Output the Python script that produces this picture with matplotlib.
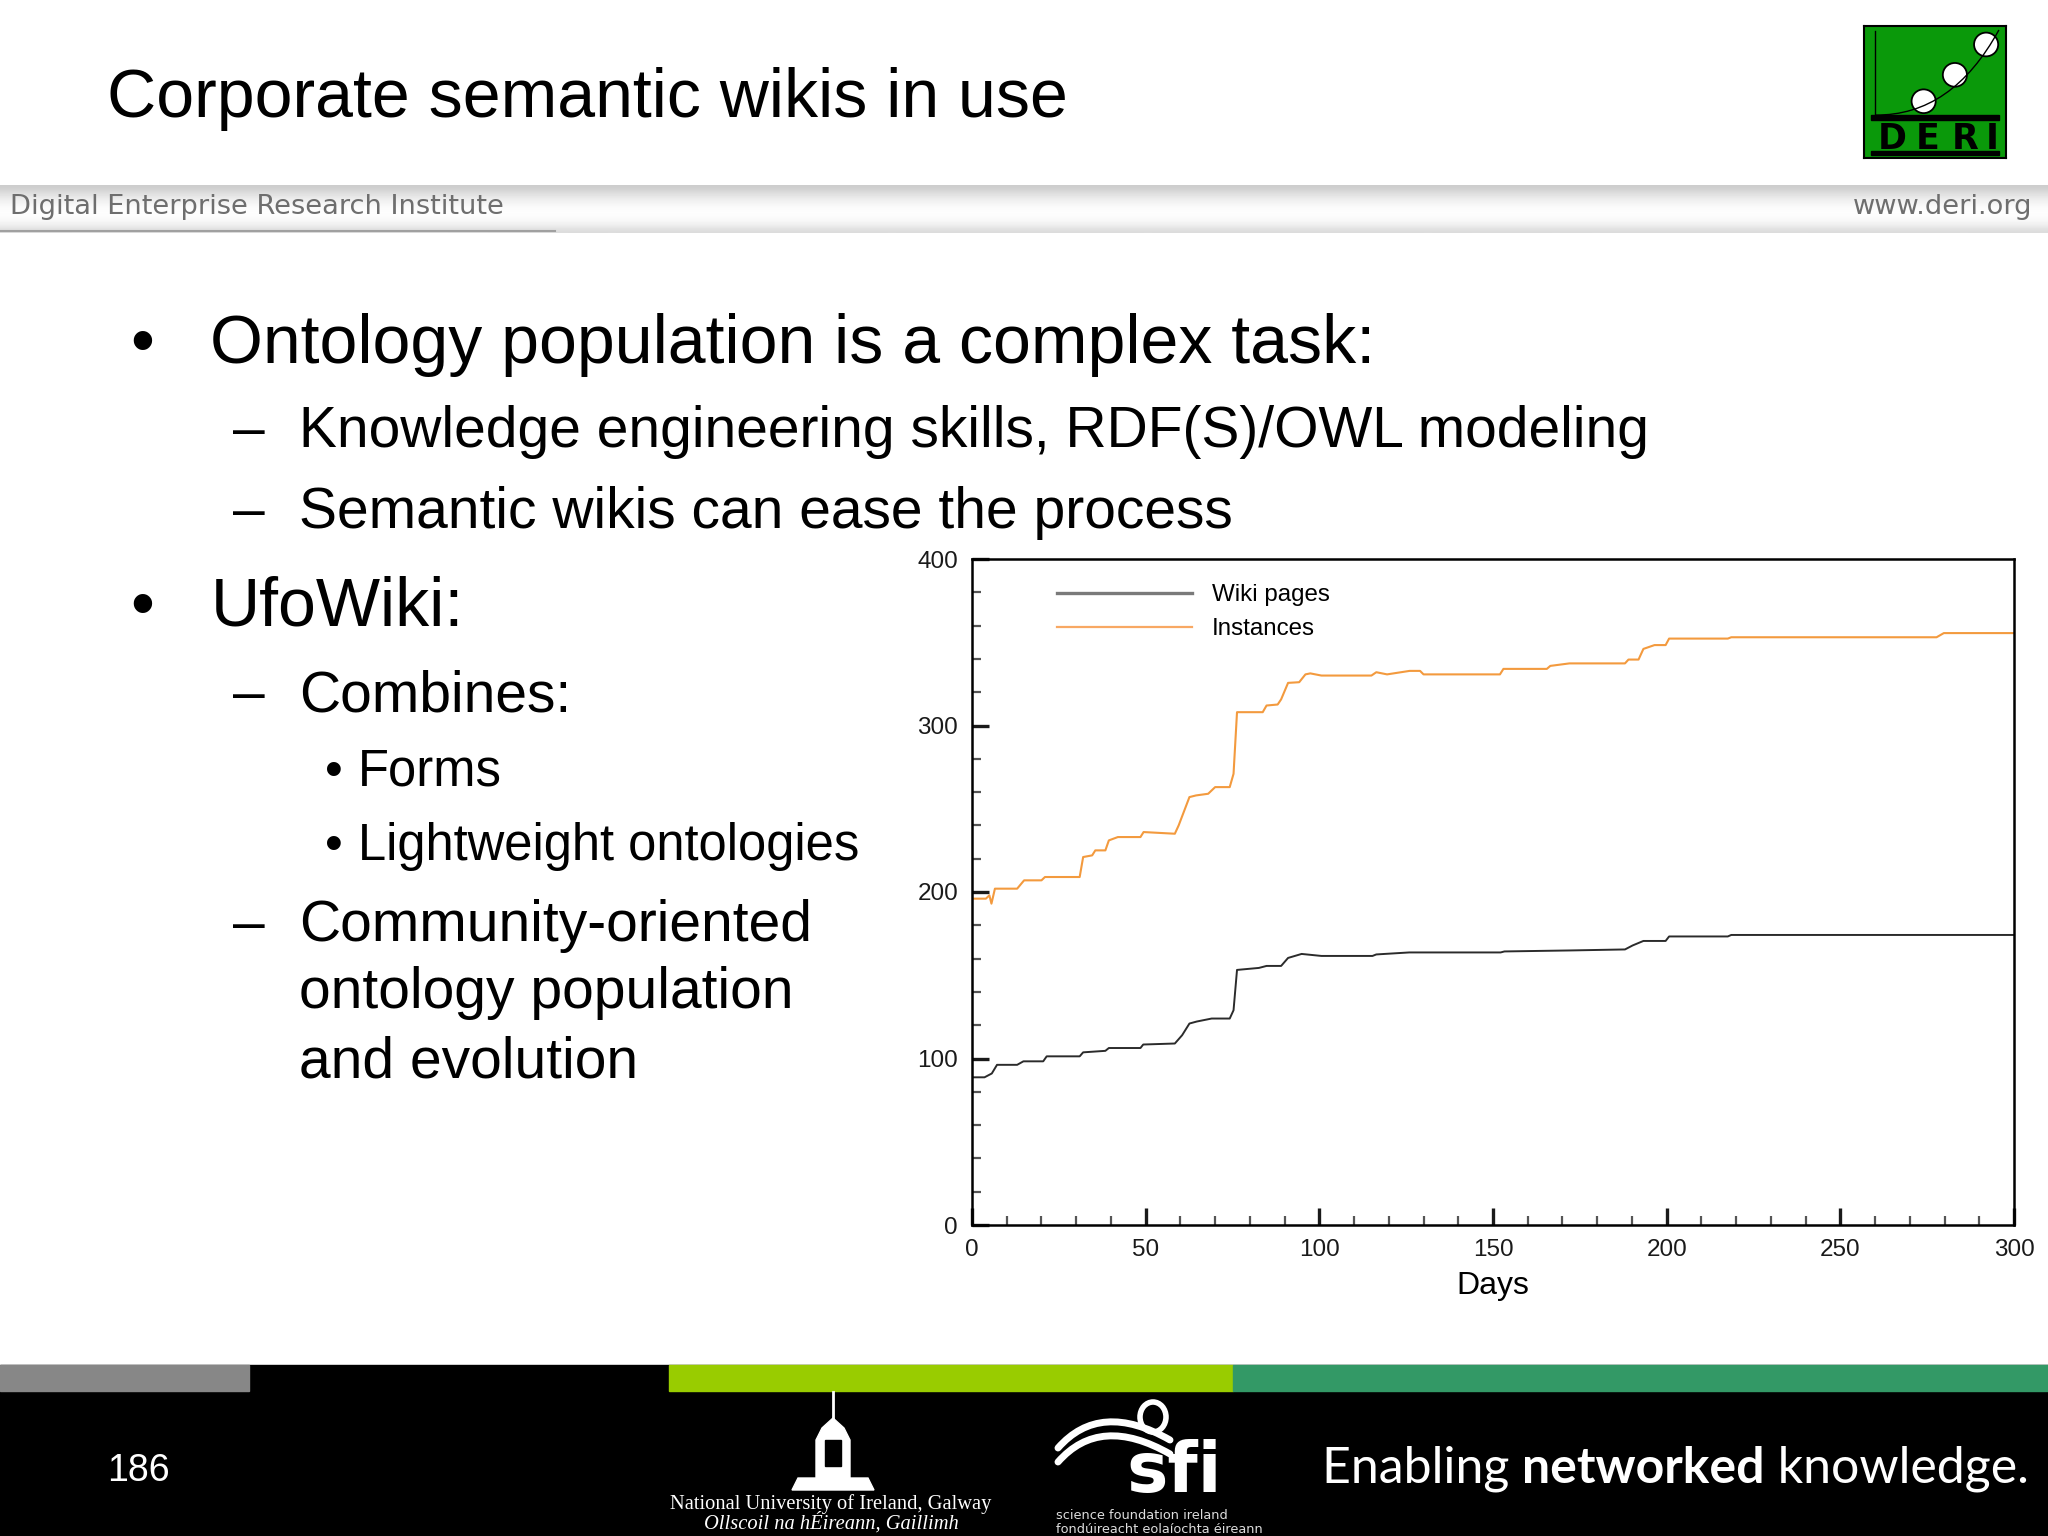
import numpy as np
import matplotlib
matplotlib.use("Agg")
import matplotlib.pyplot as plt
from matplotlib.patches import Rectangle, Ellipse, Polygon, PathPatch
from matplotlib.path import Path
from matplotlib.lines import Line2D
from matplotlib.ticker import MultipleLocator

W, H = 2048, 1536

# data (day, count)
days_inst = [0, 4, 5, 5.6, 6.6, 13, 15, 20, 21, 31, 32, 34.6, 35.5, 38.4, 39.4, 42, 48.5, 49.4,
             58.4, 59.5, 62.6, 64.5, 68, 70, 74.2, 75.3, 76.3, 83.7, 84.8, 88, 89, 91, 94.2,
             96, 97.4, 100.6, 115, 116.4, 119.5, 126, 129, 130, 152, 153, 165.5, 166.5, 172,
             188, 189, 191.9, 193.3, 196.5, 199.7, 200.7, 217.6, 218.6, 277.7, 279.8, 300]
inst = [196, 196, 198, 193, 202, 202, 207, 207, 209, 209, 221, 222, 225, 225, 231, 233, 233, 236,
        235, 240, 257, 258, 259, 263, 263, 271, 308, 308, 312, 312.6, 315.7, 325.6, 326,
        330.7, 331.3, 330, 330, 332, 330.7, 332.8, 332.8, 330.7, 330.7, 334, 334, 335.8, 337.3,
        337.3, 339.6, 339.6, 346, 348.3, 348.3, 352.2, 352.2, 353, 353, 355.5, 355.5]

days_wiki = [0, 3.6, 5.7, 7.2, 13, 14.8, 20.5, 21.5, 31, 32, 38.4, 39.4, 48.5, 49.3, 58.4, 60.5,
             62.6, 64.7, 69, 74.2, 75.3, 76.3, 82.6, 84.8, 89, 91, 94.9, 100.6, 115.3, 116.4,
             125.9, 152.2, 153.3, 172.3, 188, 190.2, 193.3, 199.7, 200.7, 217.6, 218.6, 300]
wiki = [88.7, 88.7, 91, 96.2, 96.2, 98.3, 98.3, 101.3, 101.3, 103.7, 104.6, 106.3, 106.3, 108.4,
        109, 114, 121, 122.2, 124, 124, 129, 153.2, 154.4, 155.6, 155.6, 160.4, 162.8, 161.6,
        161.6, 162.5, 163.7, 163.7, 164.3, 164.9, 165.5, 167.9, 170.6, 170.6, 173.3, 173.3,
        174.2, 174.2]

x_ticks = [0, 50, 100, 150, 200, 250, 300]
y_ticks = [0, 100, 200, 300, 400]
series_names = ["Wiki pages", "Instances"]

title = "Corporate semantic wikis in use"
# (marker, marker x, text x, baseline y, size, text)
lines = [
    ("\u2022", 130, 210, 363, 49, "Ontology population is a complex task:"),
    ("\u2013", 233, 299, 447, 41, "Knowledge engineering skills, RDF(S)/OWL modeling"),
    ("\u2013", 233, 299, 528, 41, "Semantic wikis can ease the process"),
    ("\u2022", 130, 211, 626, 49, "UfoWiki:"),
    ("\u2013", 233, 299, 711, 41, "Combines:"),
    ("\u2022", 325, 358, 786, 36.5, "Forms"),
    ("\u2022", 325, 358, 860, 36.5, "Lightweight ontologies"),
    ("\u2013", 233, 299, 941, 41, "Community-oriented"),
    ("", 0, 299, 1008, 41, "ontology population"),
    ("", 0, 299, 1077, 41, "and evolution"),
]

plt.rcParams['font.family'] = ['Liberation Sans', 'DejaVu Sans']

fig = plt.figure(figsize=(20.48, 15.36), dpi=100)
fig.patch.set_facecolor('white')

# decoration layer in pixel coordinates
deco = fig.add_axes([0, 0, 1, 1], zorder=0)
deco.set_xlim(0, W)
deco.set_ylim(H, 0)
deco.axis('off')

# header band
grad = np.array([0.80, 0.86, 0.91, 0.95, 0.98, 0.995, 0.99, 0.97, 0.93, 0.86]).reshape(-1, 1)
deco.imshow(grad, cmap='gray', vmin=0, vmax=1, aspect='auto', interpolation='bicubic',
            extent=[0, W, 233, 185], zorder=1)
deco.plot([0, 555], [231, 231], color='#a0a0a0', lw=1.5, zorder=2)
deco.text(10, 207, "Digital Enterprise Research Institute", fontsize=19.6, color='#6e6e6e',
          family='DejaVu Sans', va='center', ha='left', zorder=3)
deco.text(2032, 207, "www.deri.org", fontsize=19.6, color='#6e6e6e',
          family='DejaVu Sans', va='center', ha='right', zorder=3)

deco.text(107, 117, title, fontsize=49, color='black', va='baseline', ha='left')

for mark, mx, tx, base, size, txt in lines:
    if mark:
        deco.text(mx, base, mark, fontsize=size, va='baseline', ha='left')
    deco.text(tx, base, txt, fontsize=size, va='baseline', ha='left')

# footer
deco.add_patch(Rectangle((0, 1365), W, H - 1365, color='black', zorder=1))
for x0, x1, c in [(0, 249, '#878787'), (669, 1233, '#99cc00'), (1233, W, '#339966')]:
    deco.add_patch(Rectangle((x0, 1365), x1 - x0, 26, color=c, zorder=2))
deco.text(107, 1481, "186", fontsize=27, color='white', va='baseline', ha='left', zorder=3)

# tagline with mixed weights
r = fig.canvas.get_renderer()
xpos = 1322
for part, wgt in [("Enabling ", 'normal'), ("networked", 'bold'), (" knowledge.", 'normal')]:
    t = deco.text(xpos, 1483, part, fontsize=36, color='white', family='Lato', weight=wgt,
                  va='baseline', ha='left', zorder=3)
    bb = t.get_window_extent(renderer=r)
    xpos += bb.width * W / fig.bbox.width

# NUI Galway crest (simplified)
deco.plot([833, 833], [1392, 1422], color='white', lw=2, zorder=3)
deco.add_patch(Polygon([(816, 1478), (816, 1440), (822, 1428), (833, 1418), (844, 1428),
                        (850, 1440), (850, 1478)], closed=True, color='white', zorder=3))
deco.add_patch(Rectangle((825, 1440), 16, 26, color='black', zorder=4))
deco.add_patch(Polygon([(798, 1478), (868, 1478), (874, 1490), (792, 1490)], closed=True,
                       color='white', zorder=3))
deco.text(831, 1509, "National University of Ireland, Galway", fontsize=14.8, color='white',
          family='Liberation Serif', va='baseline', ha='center', zorder=3)
deco.text(831, 1529, "Ollscoil na h\u00c9ireann, Gaillimh", fontsize=14.8, color='white',
          family='Liberation Serif', style='italic', va='baseline', ha='center', zorder=3)

# SFI logo (simplified)
deco.add_patch(Ellipse((1153, 1417), 26, 30, facecolor='black', edgecolor='white', lw=4, zorder=3))
for dy in (0, 14):
    p = Path([(1058, 1448 + dy), (1100, 1400 + dy), (1170, 1440 + dy)],
             [Path.MOVETO, Path.CURVE3, Path.CURVE3])
    deco.add_patch(PathPatch(p, fill=False, edgecolor='white', lw=5, capstyle='round', zorder=3))
deco.text(1126, 1492, "sfi", fontsize=50, color='white', family='DejaVu Sans', weight='bold',
          va='baseline', ha='left', zorder=3)
deco.text(1056, 1519, "science foundation ireland", fontsize=9.3, color='#dddddd',
          family='DejaVu Sans', va='baseline', ha='left', zorder=3)
deco.text(1056, 1533, "fond\u00faireacht eola\u00edochta \u00e9ireann", fontsize=9.3,
          color='#dddddd', family='DejaVu Sans', va='baseline', ha='left', zorder=3)

# DERI logo
logo = fig.add_axes([1864 / W, 1 - 158 / H, 142 / W, 132 / H], zorder=2)
logo.set_xlim(0, 1)
logo.set_ylim(1, 0)
logo.set_xticks([])
logo.set_yticks([])
logo.set_facecolor('#0a990a')
for s in logo.spines.values():
    s.set_linewidth(1.5)
logo.plot([0.08, 0.08], [0.04, 0.69], color='black', lw=1)
logo.add_patch(Rectangle((0.05, 0.675), 0.9, 0.035, color='black'))
logo.add_patch(Rectangle((0.05, 0.945), 0.9, 0.035, color='black'))
for cx, cy in [(0.42, 0.57), (0.64, 0.37), (0.86, 0.14)]:
    logo.add_patch(Ellipse((cx, cy), 0.17, 0.18, facecolor='white', edgecolor='black', lw=1.3))
curve = Path([(0.08, 0.675), (0.62, 0.68), (0.95, 0.03)], [Path.MOVETO, Path.CURVE3, Path.CURVE3])
logo.add_patch(PathPatch(curve, fill=False, edgecolor='black', lw=1))
for ch, cx in zip("DERI", [0.20, 0.445, 0.71, 0.905]):
    logo.text(cx, 0.93, ch, fontsize=25, family='DejaVu Sans', weight='bold', ha='center',
              va='baseline', color='black')

# chart
ax = fig.add_axes([972 / W, 1 - 1225 / H, (2014 - 972) / W, (1225 - 559) / H], zorder=3)
ax.plot(days_wiki, wiki, color='#2b2b2b', lw=1.4)
ax.plot(days_inst, inst, color='#f39a3e', lw=1.5)
ax.set_xlim(0, 300)
ax.set_ylim(0, 400)
ax.set_xticks(x_ticks)
ax.set_yticks(y_ticks)
ax.xaxis.set_minor_locator(MultipleLocator(10))
ax.yaxis.set_minor_locator(MultipleLocator(20))
ax.tick_params(which='major', direction='in', length=12, width=2.4, labelsize=17.5, pad=10,
               colors='#1a1a1a')
ax.tick_params(which='minor', direction='in', length=6.5, width=1.6, color='#555555')
for s in ax.spines.values():
    s.set_linewidth(1.8)
ax.set_xlabel("Days", fontsize=23, labelpad=7)

handles = [Line2D([], [], color='#7a7a7a', lw=2.4), Line2D([], [], color='#f8a863', lw=1.6)]
ax.legend(handles, series_names, loc='upper left', bbox_to_anchor=(0.0816, 0.962),
          frameon=False, fontsize=17.4, handlelength=5.6, handletextpad=0.8,
          labelspacing=0.5, borderpad=0, borderaxespad=0)

fig.savefig("out.png", dpi=100, facecolor='white')
